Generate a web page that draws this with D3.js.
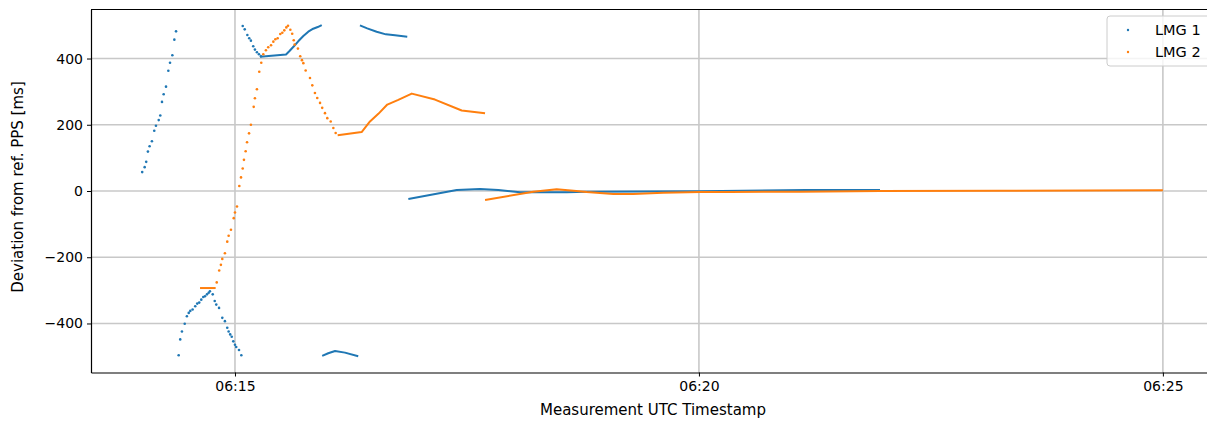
<!DOCTYPE html>
<html>
<head>
<meta charset="utf-8">
<script src="https://cdn.jsdelivr.net/npm/d3@7"></script>
<style>
  body { margin: 0; background: #fff; }
  svg { font-family: "DejaVu Sans", sans-serif; }
</style>
</head>
<body>
<svg></svg>
<script>
// times are seconds after 06:00:00 UTC, values are ms deviation

// LMG 1: sparse samples (drawn as dots)
let lmg1Dots = [
  [840.0, 57], [841.6, 72], [842.6, 88], [843.7, 119], [844.8, 135], [846.3, 150],
  [847.8, 182], [848.9, 197], [850.7, 214], [851.7, 228], [852.8, 269], [853.9, 292],
  [855.4, 315], [856.9, 363], [858.0, 387], [859.5, 410], [860.8, 457], [861.9, 482],
  [863.6, -496], [864.6, -448], [865.7, -424], [867.5, -401], [868.9, -378], [870.1, -368],
  [871.1, -362], [872.6, -358], [874.3, -348], [875.6, -340], [876.9, -337], [878.2, -328],
  [879.5, -320], [880.6, -318], [881.9, -312], [883.0, -307], [883.8, -303], [885.6, -312],
  [886.9, -332], [887.9, -343], [889.7, -353], [891.8, -383], [893.5, -393], [895.0, -413],
  [895.9, -424], [896.9, -433], [897.9, -440], [898.9, -454], [900.0, -464], [900.8, -471],
  [902.6, -480], [904.1, -496],
  [905.0, 498], [906.3, 488], [908.0, 471], [909.2, 461], [910.3, 454], [911.8, 437],
  [912.9, 427], [914.2, 419], [915.5, 413], [916.8, 407]
];

// LMG 1: densely sampled stretches (points merge into a line)
let lmg1Runs = [
  [[916.2, 405], [933.0, 412], [935.1, 422], [938.1, 437], [940.9, 452], [944.2, 468],
   [947.4, 481], [950.6, 490], [953.5, 495], [956.1, 501]],
  [[956.4, -498], [960.3, -490], [964.7, -483], [971.1, -488], [979.7, -499]],
  [[980.8, 500], [985.5, 491], [991.6, 481], [997.6, 473], [1003.5, 470], [1011.4, 466]],
  [[1012.1, -24], [1043.4, 3], [1058.4, 6], [1070.3, 3], [1084.3, -4], [1114.5, -4],
   [1127.4, -2], [1200.7, -1], [1269.2, 3], [1317.1, 3]]
];

// LMG 2: sparse samples
let lmg2Dots = [
  [888.2, -276], [889.8, -240], [890.9, -223], [891.8, -205], [893.5, -188], [895.0, -153],
  [895.9, -135], [897.4, -117], [899.2, -82], [900.0, -65], [901.3, -47], [902.8, 15],
  [903.9, 41], [905.0, 68], [905.8, 94], [906.9, 120], [907.8, 147], [909.1, 174],
  [910.3, 200], [912.1, 254], [912.9, 280], [914.2, 307], [915.7, 360], [917.0, 387],
  [918.3, 413], [920.0, 425], [921.5, 434], [923.3, 440], [924.8, 451], [926.1, 458],
  [927.6, 461], [929.3, 474], [930.6, 478], [931.9, 485], [933.2, 494], [934.3, 499],
  [935.8, 487], [937.0, 475], [938.0, 455], [938.6, 442], [940.7, 430], [942.2, 407],
  [943.3, 395], [944.2, 386], [945.7, 364], [948.5, 341], [950.0, 319], [951.7, 296],
  [953.2, 281], [955.0, 266], [956.4, 251], [958.2, 235], [959.7, 220], [961.9, 210],
  [963.6, 190], [965.1, 175]
];

// LMG 2: dense stretches
let lmg2Runs = [
  [[877.4, -293], [887.5, -293]],
  [[966.4, 168], [981.9, 178], [987.3, 210], [992.7, 233], [998.5, 261], [1005.6, 275],
   [1014.3, 294], [1029.3, 276], [1046.6, 243], [1061.7, 235]],
  [[1061.7, -27], [1092.9, -2], [1108.0, 5], [1118.9, 1], [1127.4, -3], [1144.6, -9],
   [1157.5, -9], [1176.9, -5], [1200.7, -3], [1220.1, -3], [1265.3, -2], [1317.1, 0],
   [1394.6, 1], [1500.0, 2]]
];

let seriesNames = ["LMG 1", "LMG 2"];
let seriesColors = ["#1f77b4", "#ff7f0e"];
let xTicks = ["06:15", "06:20", "06:25"];
let yTicks = [-400, -200, 0, 200, 400];

let width = 1207;
let height = 421;
let margin = { left: 91, top: 9.5, right: 1215, bottom: 372.5 };

let base = new Date(Date.UTC(2024, 0, 1, 6, 0, 0));
let toDate = (s) => new Date(base.getTime() + s * 1000);
let parseTick = d3.utcParse("%H:%M");
let tickDate = (s) => {
  let t = parseTick(s);
  return new Date(base.getTime() + (t.getUTCHours() - 6) * 3600000 + t.getUTCMinutes() * 60000);
};

let svg = d3.select("svg").attr("width", width).attr("height", height);

let xScale = d3.scaleUtc()
  .domain([toDate(806.9), toDate(1533.7)])
  .range([margin.left, margin.right]);

let yScale = d3.scaleLinear()
  .domain([-548, 548])
  .range([margin.bottom, margin.top]);

// grid
svg.append("g")
  .selectAll("line")
  .data(xTicks)
  .join("line")
  .attr("x1", (d) => xScale(tickDate(d)))
  .attr("x2", (d) => xScale(tickDate(d)))
  .attr("y1", margin.top)
  .attr("y2", margin.bottom)
  .attr("stroke", "#c8c8c8")
  .attr("stroke-width", 1.6);

svg.append("g")
  .selectAll("line")
  .data(yTicks)
  .join("line")
  .attr("x1", margin.left)
  .attr("x2", margin.right)
  .attr("y1", (d) => yScale(d))
  .attr("y2", (d) => yScale(d))
  .attr("stroke", "#c8c8c8")
  .attr("stroke-width", 1.6);

// data
let line = d3.line()
  .x((d) => xScale(toDate(d[0])))
  .y((d) => yScale(d[1]));

function drawSeries(dots, runs, color) {
  let g = svg.append("g");
  g.selectAll("path")
    .data(runs)
    .join("path")
    .attr("d", line)
    .attr("fill", "none")
    .attr("stroke", color)
    .attr("stroke-width", 2)
    .attr("stroke-linejoin", "round");
  g.selectAll("circle")
    .data(dots)
    .join("circle")
    .attr("cx", (d) => xScale(toDate(d[0])))
    .attr("cy", (d) => yScale(d[1]))
    .attr("r", 1.3)
    .attr("fill", color);
}

drawSeries(lmg1Dots, lmg1Runs, seriesColors[0]);
drawSeries(lmg2Dots, lmg2Runs, seriesColors[1]);

// axes
let xAxis = d3.axisBottom(xScale)
  .tickValues(xTicks.map(tickDate))
  .tickFormat(d3.utcFormat("%H:%M"))
  .tickSize(4)
  .tickSizeOuter(0)
  .tickPadding(5);

let gx = svg.append("g")
  .attr("transform", `translate(0, ${margin.bottom})`)
  .call(xAxis);
gx.select(".domain").attr("stroke", "#000").attr("stroke-width", 1.2);

let yAxis = d3.axisLeft(yScale)
  .tickValues(yTicks)
  .tickFormat((d) => (d < 0 ? "\u2212" + Math.abs(d) : d))
  .tickSize(4)
  .tickSizeOuter(0)
  .tickPadding(4);

let gy = svg.append("g")
  .attr("transform", `translate(${margin.left}, 0)`)
  .call(yAxis);
gy.select(".domain").attr("stroke", "#000").attr("stroke-width", 1.2);

svg.selectAll(".tick text")
  .style("font-size", "14px")
  .style("font-family", "DejaVu Sans, sans-serif")
  .attr("fill", "#000");

// top spine
svg.append("line")
  .attr("x1", margin.left)
  .attr("x2", margin.right)
  .attr("y1", margin.top)
  .attr("y2", margin.top)
  .attr("stroke", "#000")
  .attr("stroke-width", 1.2);

// axis titles
svg.append("text")
  .attr("x", 653)
  .attr("y", 415)
  .attr("text-anchor", "middle")
  .style("font-size", "15px")
  .text("Measurement UTC Timestamp");

svg.append("text")
  .attr("transform", "rotate(-90)")
  .attr("x", -187)
  .attr("y", 23)
  .attr("text-anchor", "middle")
  .style("font-size", "15px")
  .text("Deviation from ref. PPS [ms]");

// legend
let legend = svg.append("g").attr("transform", "translate(1107, 16)");
legend.append("rect")
  .attr("width", 110)
  .attr("height", 50)
  .attr("rx", 3)
  .attr("fill", "#fff")
  .attr("fill-opacity", 0.8)
  .attr("stroke", "#cccccc");

let items = legend.selectAll("g.item")
  .data(seriesNames)
  .join("g")
  .attr("class", "item")
  .attr("transform", (d, i) => `translate(0, ${14 + i * 22})`);

items.append("circle")
  .attr("cx", 21)
  .attr("cy", 0)
  .attr("r", 1.2)
  .attr("fill", (d, i) => seriesColors[i]);

items.append("text")
  .attr("x", 48)
  .attr("y", 5)
  .style("font-size", "14.5px")
  .text((d) => d);
</script>
</body>
</html>
